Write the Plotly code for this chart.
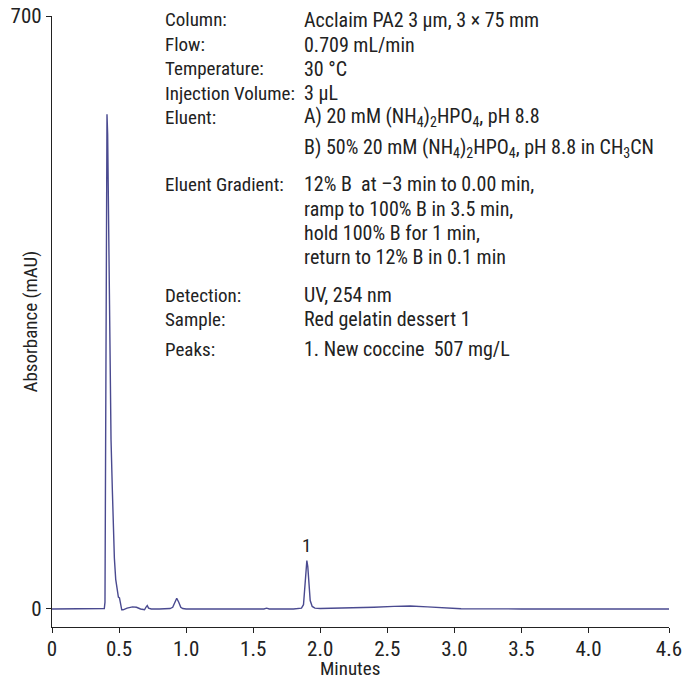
import plotly.graph_objects as go

# Chromatogram trace (minutes, mAU)
time_min = [0.00, 0.30, 0.39, 0.395, 0.400, 0.405, 0.410, 0.415, 0.420, 0.425, 0.430,
            0.440, 0.450, 0.457, 0.465, 0.475, 0.485, 0.495, 0.503, 0.512, 0.520,
            0.530, 0.560, 0.600, 0.630, 0.660, 0.690, 0.700, 0.710, 0.720, 0.740,
            0.800, 0.880, 0.900, 0.915, 0.930, 0.945, 0.960, 0.975, 1.00, 1.20,
            1.40, 1.58, 1.60, 1.62, 1.80, 1.86, 1.875, 1.885, 1.893, 1.900, 1.907,
            1.915, 1.925, 1.940, 1.960, 2.00, 2.20, 2.40, 2.55, 2.67, 2.80, 2.95,
            3.05, 3.50, 4.00, 4.60]
absorbance = [0.0, 0.0, 0.5, 8, 150, 450, 584, 560, 470, 370, 290,
              200, 140, 101, 60, 35, 22, 14, 13, 4, -1,
              -1, 1, 2.5, 2, 0, -1, 2, 4, 1, 0,
              0, 0.5, 2, 8, 12.6, 8, 2, 0.5, 0, 0,
              0, 0, 1, 0, 0, 1, 5, 25, 50, 57, 50,
              28, 10, 3, 1, 0.5, 1, 2, 3, 3.5, 2.5, 1.5,
              0.3, 0, 0, 0]

peak_label = ["1"]
peak_time = [1.90]
peak_height = [57]

x_ticks = [0, 0.5, 1.0, 1.5, 2.0, 2.5, 3.0, 3.5, 4.0, 4.6]
x_tick_text = ["0", "0.5", "1.0", "1.5", "2.0", "2.5", "3.0", "3.5", "4.0", "4.6"]
y_ticks = [0, 700]

info_labels = ["Column:", "Flow:", "Temperature:", "Injection Volume:", "Eluent:", "",
               "Eluent Gradient:", "", "", "", "Detection:", "Sample:", "Peaks:"]
info_values = ["Acclaim PA2 3 µm, 3 × 75 mm",
               "0.709 mL/min",
               "30 °C",
               "3 µL",
               "A) 20 mM (NH<sub>4</sub>)<sub>2</sub>HPO<sub>4</sub>, pH 8.8",
               "B) 50% 20 mM (NH<sub>4</sub>)<sub>2</sub>HPO<sub>4</sub>, pH 8.8 in CH<sub>3</sub>CN",
               "12% B  at –3 min to 0.00 min,",
               "ramp to 100% B in 3.5 min,",
               "hold 100% B for 1 min,",
               "return to 12% B in 0.1 min",
               "UV, 254 nm",
               "Red gelatin dessert 1",
               "1. New coccine  507 mg/L"]
row_px = [20, 45, 69, 93, 117, 148, 184, 209, 233, 257, 295, 319, 349]

FONT = "Roboto Condensed, Roboto, Liberation Sans, sans-serif"
FS_LAB = 19
FS_VAL = 20
FS_TICK = 21
TXT = "#222"
W, H = 686, 679
ML, MR, MT, MB = 52, 17, 16, 52
PW, PH = W - ML - MR, H - MT - MB

def px_x(px):
    return (px - ML) / PW

def px_y(py):
    return (H - MB - py) / PH

fig = go.Figure()
fig.add_trace(go.Scatter(x=time_min, y=absorbance, mode="lines",
                         line=dict(color="#4a4a90", width=1.4), hoverinfo="skip"))

ann = []
for lab, val, py in zip(info_labels, info_values, row_px):
    if lab:
        ann.append(dict(x=px_x(163), y=px_y(py), xref="paper", yref="paper", text=lab,
                        showarrow=False, xanchor="left", yanchor="middle",
                        font=dict(family=FONT, size=FS_LAB, color=TXT)))
    ann.append(dict(x=px_x(302), y=px_y(py), xref="paper", yref="paper", text=val,
                    showarrow=False, xanchor="left", yanchor="middle",
                    font=dict(family=FONT, size=FS_VAL, color=TXT)))
for lab, t, h in zip(peak_label, peak_time, peak_height):
    ann.append(dict(x=t, y=h, xref="x", yref="y", text=lab, showarrow=False,
                    yanchor="bottom", yshift=2, font=dict(family=FONT, size=FS_LAB, color=TXT)))
# axis titles
ann.append(dict(x=px_x(30), y=0.5, xref="paper", yref="paper", text="Absorbance (mAU)",
                showarrow=False, textangle=-90, xanchor="center", yanchor="middle",
                font=dict(family=FONT, size=FS_LAB, color=TXT)))
ann.append(dict(x=px_x(350), y=px_y(668), xref="paper", yref="paper", text="Minutes",
                showarrow=False, xanchor="center", yanchor="middle",
                font=dict(family=FONT, size=FS_LAB, color=TXT)))

fig.update_layout(
    width=W, height=H, margin=dict(l=ML, r=MR, t=MT, b=MB, autoexpand=False),
    paper_bgcolor="white", plot_bgcolor="white", showlegend=False,
    annotations=ann,
    font=dict(family=FONT, size=FS_LAB, color=TXT),
    xaxis=dict(range=[0, 4.6], tickvals=x_ticks, ticktext=x_tick_text, automargin=False,
               showgrid=False, zeroline=False, showline=True, linecolor="#222",
               linewidth=1.2, ticks="outside", ticklen=5, tickcolor="#222",
               ticklabelstandoff=-2,
               tickfont=dict(family=FONT, size=FS_TICK, color=TXT)),
    yaxis=dict(range=[-21.3, 700], tickvals=y_ticks, showgrid=False, zeroline=False,
               automargin=False,
               showline=True, linecolor="#222", linewidth=1.2, ticks="outside",
               ticklen=5, tickcolor="#222",
               tickfont=dict(family=FONT, size=FS_TICK, color=TXT)),
)

fig.write_html("out.html", config={"displayModeBar": False},
               post_script="document.body.style.margin='0';document.body.style.overflow='hidden';")
